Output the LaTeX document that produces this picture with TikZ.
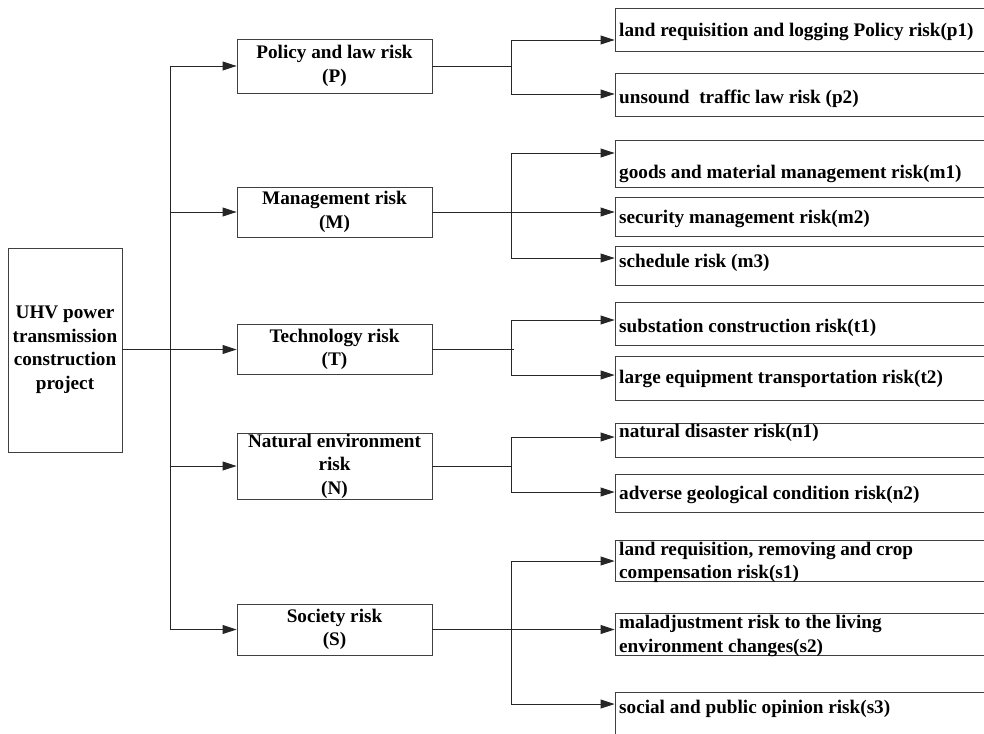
\documentclass[tikz,border=0pt]{standalone}
\usepackage{fontspec}
\setmainfont{Liberation Serif}
\usetikzlibrary{arrows.meta}
\begin{document}
\begin{tikzpicture}[x=1pt,y=-1pt,
  every node/.style={font=\bfseries\fontsize{19.2}{23.5}\selectfont},
  boxline/.style={draw=black!75,line width=0.9pt},
  rootbox/.style={boxline,minimum width=114pt,minimum height=204pt,align=center,inner sep=0pt},
  midbox/.style={boxline,minimum width=195pt,align=center,inner sep=0pt},
  rbox/.style={boxline,minimum width=385pt,inner sep=0pt},
  rtext/.style={anchor=base west,inner sep=0pt,align=left},
  conn/.style={draw=black!85,line width=0.9pt},
  arr/.style={conn,-{Triangle[length=14pt,width=9pt]}}
]
\fill[white] (0,0) rectangle (984,733);
\clip (0,0) rectangle (984,733);
% root
\node[rootbox] (root) at (65,350) {UHV power\\transmission\\construction\\project};
% level 1
\node[midbox,minimum height=54pt] (P) at (334.5,66) {Policy and law risk\\(P)};
\node[midbox,minimum height=50pt] (M) at (334.5,212) {Management risk\\(M)};
\node[midbox,minimum height=50pt] (T) at (334.5,349.5) {Technology risk\\(T)};
\node[midbox,minimum height=66pt] (N) at (334.5,466) {Natural environment\\risk\\(N)};
\node[midbox,minimum height=51pt] (S) at (334.5,629.5) {Society risk\\(S)};
% level 2 boxes
\node[rbox,minimum height=43pt] (p1) at (807.5,29.5) {};
\node[rbox,minimum height=43pt] (p2) at (807.5,94.5) {};
\node[rbox,minimum height=47pt] (m1) at (807.5,163.5) {};
\node[rbox,minimum height=39pt] (m2) at (807.5,216.5) {};
\node[rbox,minimum height=39pt] (m3) at (807.5,265.5) {};
\node[rbox,minimum height=43pt] (t1) at (807.5,323.5) {};
\node[rbox,minimum height=44pt] (t2) at (807.5,378) {};
\node[rbox,minimum height=34pt] (n1) at (807.5,440) {};
\node[rbox,minimum height=38pt] (n2) at (807.5,493) {};
\node[rbox,minimum height=41pt] (s1) at (807.5,560.5) {};
\node[rbox,minimum height=42pt] (s2) at (807.5,634) {};
\node[rbox,minimum height=48pt] (s3) at (807.5,716) {};
% level 2 texts
\node[rtext] (p1t) at (619,37) {land requisition and logging Policy risk(p1)};
\node[rtext] (p2t) at (619,103) {unsound\ \ traffic law risk (p2)};
\node[rtext] (m1t) at (619,178) {goods and material management risk(m1)};
\node[rtext] (m2t) at (619,223) {security management risk(m2)};
\node[rtext] (m3t) at (619,267) {schedule risk (m3)};
\node[rtext] (t1t) at (619,332) {substation construction risk(t1)};
\node[rtext] (t2t) at (619,383) {large equipment transportation risk(t2)};
\node[rtext] (n1t) at (619,437) {natural disaster risk(n1)};
\node[rtext] (n2t) at (619,499) {adverse geological condition risk(n2)};
\node[rtext] (s1t) at (619,555) {land requisition, removing and crop};
\node[rtext] (s1u) at (619,578) {compensation risk(s1)};
\node[rtext] (s2t) at (619,628) {maladjustment risk to the living};
\node[rtext] (s2u) at (619,652) {environment changes(s2)};
\node[rtext] (s3t) at (619,713) {social and public opinion risk(s3)};
% trunk
\coordinate (tP) at (170,66);
\coordinate (tS) at (170,629.5);
\draw[conn] (tP) -- (tS);
\draw[arr] (root.east |- T.west) -- (T.west);
\draw[arr] (tP) -- (P.west);
\draw[arr] (170,212) -- (M.west);
\draw[arr] (170,466) -- (N.west);
\draw[arr] (tS) -- (S.west);
% P branch
\coordinate (jP) at (511,66);
\draw[conn] (P.east) -- (jP);
\draw[conn] (511,40) -- (511,94);
\draw[arr] (511,40) -- (p1.west |- 0,40);
\draw[arr] (511,94) -- (p2.west |- 0,94);
% M branch
\draw[conn] (511,153) -- (511,258);
\draw[arr] (M.east) -- (m2.west |- M.east);
\draw[arr] (511,153) -- (m1.west |- 0,153);
\draw[arr] (511,258) -- (m3.west |- 0,258);
% T branch
\coordinate (jT) at (514,349.5);
\draw[conn] (T.east) -- (jT);
\draw[conn] (511,320) -- (511,375);
\draw[arr] (511,320) -- (t1.west |- 0,320);
\draw[arr] (511,375) -- (t2.west |- 0,375);
% N branch
\coordinate (jN) at (511,466);
\draw[conn] (N.east) -- (jN);
\draw[conn] (511,437) -- (511,492);
\draw[arr] (511,437) -- (n1.west |- 0,437);
\draw[arr] (511,492) -- (n2.west |- 0,492);
% S branch
\draw[conn] (511,561) -- (511,704);
\draw[arr] (S.east) -- (s2.west |- S.east);
\draw[arr] (511,561) -- (s1.west |- 0,561);
\draw[arr] (511,704) -- (s3.west |- 0,704);
\end{tikzpicture}
\end{document}
